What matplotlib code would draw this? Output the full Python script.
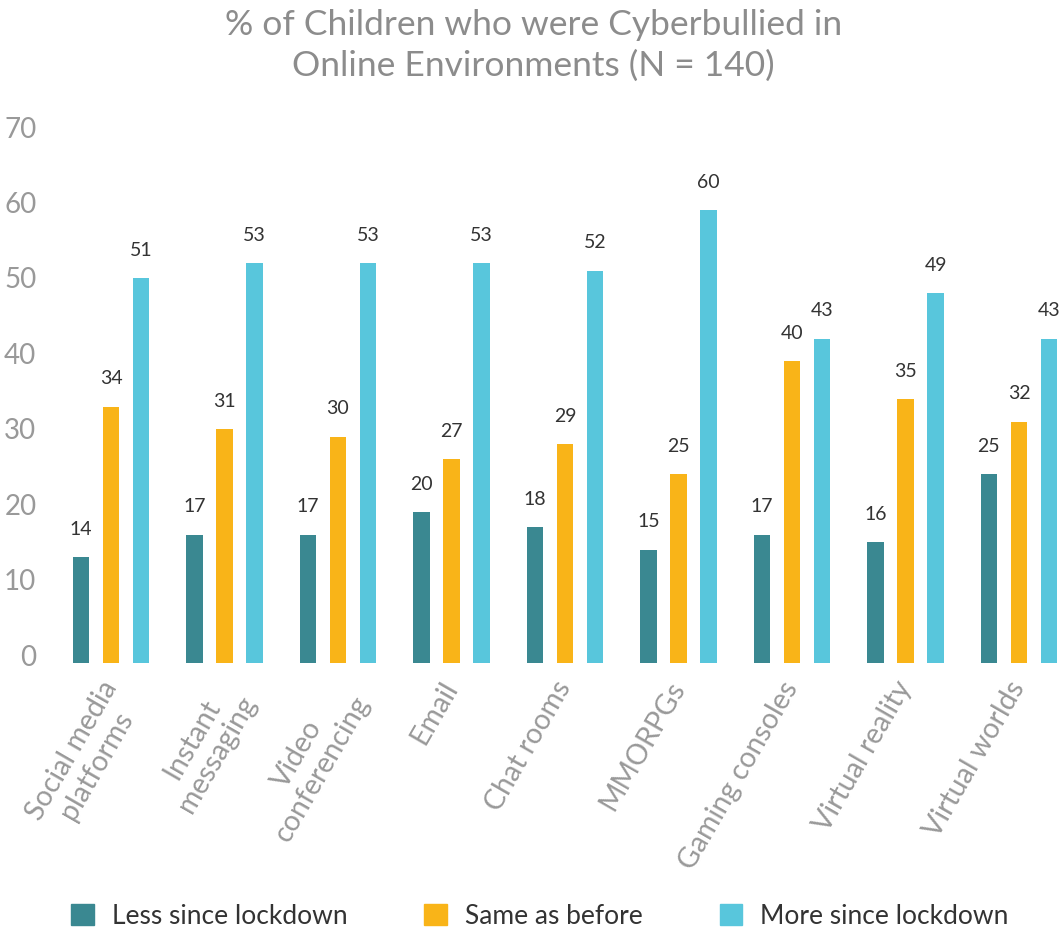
import numpy as np
import matplotlib.pyplot as plt
from matplotlib.patches import Patch
from matplotlib.transforms import ScaledTranslation

plt.rcParams['font.family'] = ['Lato', 'DejaVu Sans']

# 数据
categories = ["Social media\nplatforms", "Instant\nmessaging", "Video\nconferencing",
              "Email", "Chat rooms", "MMORPGs", "Gaming consoles",
              "Virtual reality", "Virtual worlds"]
less_since = [14, 17, 17, 20, 18, 15, 17, 16, 25]
same_as = [34, 31, 30, 27, 29, 25, 40, 35, 32]
more_since = [51, 53, 53, 53, 52, 60, 43, 49, 43]
series_names = ["Less since lockdown", "Same as before", "More since lockdown"]
colors = ["#3a8891", "#f9b418", "#58c6dc"]

fig = plt.figure(figsize=(10.61, 9.30), dpi=100)
ax = fig.add_axes([60 / 1061, 267 / 930, 1001 / 1061, 528 / 930])

x = np.arange(len(categories))
offset = 0.266
width = 0.145
for i, vals in enumerate([less_since, same_as, more_since]):
    bars = ax.bar(x + (i - 1) * offset, vals, width, color=colors[i])
    for b, v in zip(bars, vals):
        ax.annotate(str(v), (b.get_x() + b.get_width() / 2, v),
                    xytext=(0, 14), textcoords='offset points',
                    ha='center', va='bottom', fontsize=14, color='#333333')

ax.set_xlim(-0.449, 8.37)
ax.set_ylim(0, 70)
ax.set_yticks(range(0, 71, 10))
ax.tick_params(axis='y', length=0, pad=17, labelsize=20, labelcolor='#999999')
for lab in ax.get_yticklabels():
    lab.set_transform(lab.get_transform() + ScaledTranslation(0, 8 / 100, fig.dpi_scale_trans))

ax.set_xticks(x - 0.1)
ax.set_xticklabels(categories, rotation=60, ha='right', va='top',
                   rotation_mode='anchor', multialignment='center',
                   fontsize=20.5, color='#999999', linespacing=1.15)
ax.tick_params(axis='x', length=0, pad=10)

for s in ax.spines.values():
    s.set_visible(False)

fig.suptitle("% of Children who were Cyberbullied in\nOnline Environments (N = 140)",
             x=0.503, y=0.99, fontsize=25.5, color='#8c8c8c', linespacing=1.3)

handles = [Patch(color=c, label=n) for c, n in zip(colors, series_names)]
fig.legend(handles=handles, loc='lower center', bbox_to_anchor=(0.509, -0.024),
           ncol=3, frameon=False, fontsize=19, handlelength=0.85, handleheight=0.85,
           handletextpad=0.7, columnspacing=2.9, labelcolor='#333333')

fig.savefig("out.png", dpi=100)
